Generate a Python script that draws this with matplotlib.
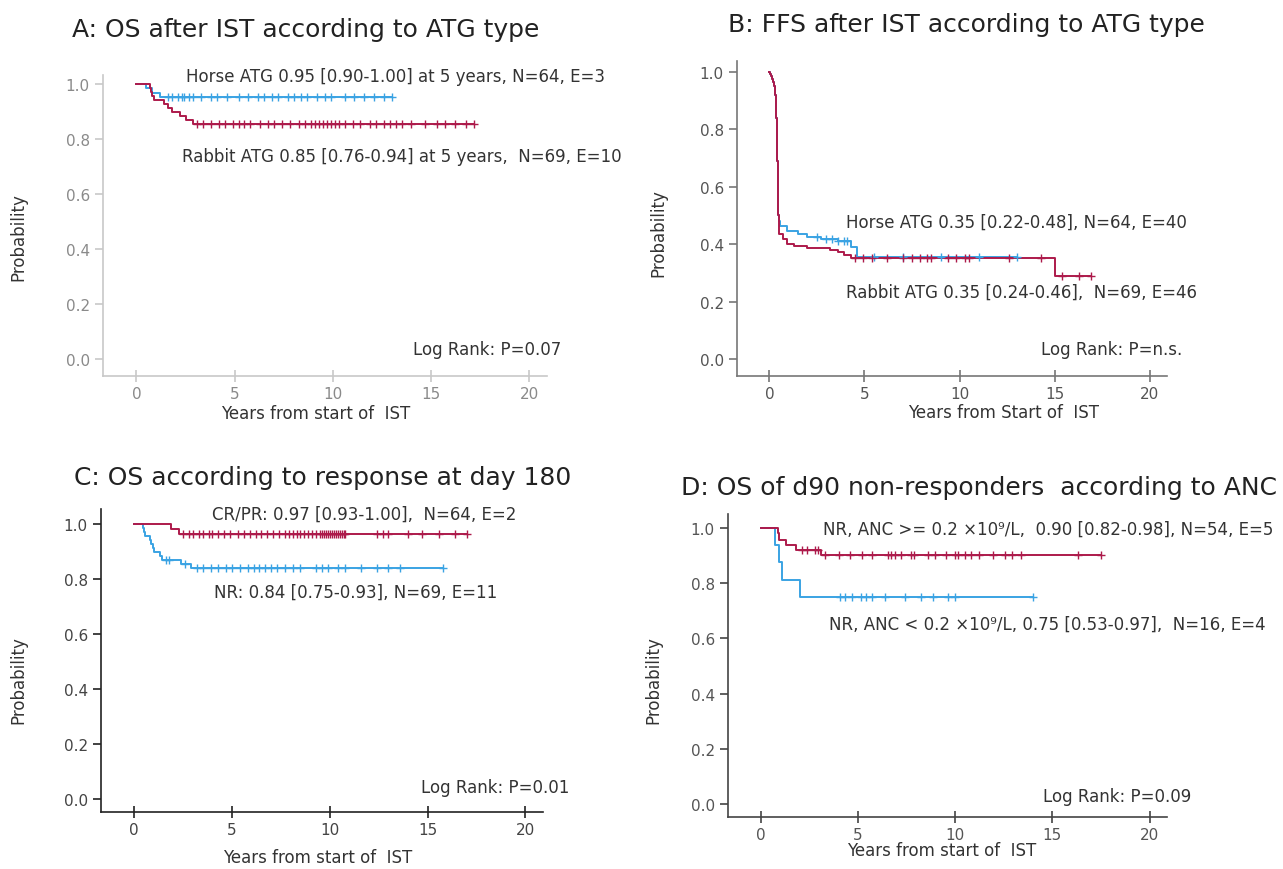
import numpy as np
import matplotlib
matplotlib.use("Agg")
import matplotlib.pyplot as plt

plt.rcParams['font.family'] = ['DejaVu Sans']

# ---- Panel A: OS after IST by ATG type
a_horse_events = [0.5, 0.8, 1.2]
a_horse_surv = [0.984, 0.968, 0.952]
a_horse_end = 13.0
a_horse_cens = [1.6, 1.8, 2.1, 2.3, 2.4, 2.7, 2.9, 3.3, 3.8, 4.1, 4.6, 5.2, 5.7, 6.2, 6.5,
                6.9, 7.2, 7.7, 8.0, 8.4, 8.7, 9.2, 9.6, 9.9, 10.6, 11.1, 11.6, 12.1, 12.6, 13.0]
a_rabbit_events = [0.7, 0.75, 0.8, 0.9, 1.4, 1.6, 1.8, 2.2, 2.5, 2.9]
a_rabbit_surv = [0.986, 0.971, 0.957, 0.942, 0.928, 0.913, 0.899, 0.884, 0.870, 0.855]
a_rabbit_end = 17.2
a_rabbit_cens = [3.1, 3.4, 3.8, 4.2, 4.5, 4.9, 5.2, 5.5, 5.8, 6.3, 6.7, 7.0, 7.4, 7.8, 8.3,
                 8.6, 8.9, 9.1, 9.3, 9.5, 9.7, 9.9, 10.1, 10.3, 10.6, 11.0, 11.4, 11.9, 12.2,
                 12.6, 12.9, 13.2, 13.5, 14.0, 14.7, 15.3, 15.7, 16.2, 16.8, 17.2]

# ---- Panel B: FFS after IST by ATG type
b_drop_t = [0.05, 0.1, 0.15, 0.2, 0.25, 0.28, 0.31, 0.33, 0.35, 0.37, 0.39, 0.40, 0.42,
            0.43, 0.45, 0.46]
b_drop_s = [0.993, 0.985, 0.975, 0.965, 0.952, 0.94, 0.92, 0.90, 0.87, 0.84, 0.80, 0.76,
            0.69, 0.62, 0.55, 0.50]
b_horse_events = [0.5, 0.58, 0.94, 1.5, 2.0, 2.7, 3.6, 4.3, 4.6]
b_horse_surv = [0.48, 0.464, 0.446, 0.435, 0.425, 0.418, 0.41, 0.39, 0.355]
b_horse_end = 13.0
b_horse_cens = [2.5, 3.0, 3.3, 3.6, 3.9, 4.1, 5.5, 7.0, 9.0, 11.0, 13.0]
b_rabbit_events = [0.5, 0.7, 0.95, 1.3, 2.0, 3.2, 3.6, 3.9, 4.3, 15.0]
b_rabbit_surv = [0.436, 0.418, 0.40, 0.395, 0.387, 0.38, 0.372, 0.362, 0.352, 0.288]
b_rabbit_end = 16.9
b_rabbit_cens = [4.5, 4.9, 5.4, 6.2, 7.0, 7.5, 7.9, 8.3, 8.5, 9.4, 9.8, 10.3, 10.5, 12.6,
                 14.3, 15.4, 16.3, 16.9]

# ---- Panel C: OS by response at day 180
c_cr_events = [1.9, 2.3]
c_cr_surv = [0.983, 0.965]
c_cr_end = 17.0
c_cr_cens = [2.5, 2.8, 3.0, 3.3, 3.5, 3.8, 4.0, 4.3, 4.6, 4.9, 5.3, 5.6, 5.9, 6.2, 6.5, 6.8,
             7.1, 7.4, 7.7, 7.9, 8.1, 8.3, 8.5, 8.7, 8.9, 9.1, 9.3, 9.5, 9.6, 9.7, 9.8, 9.9,
             10.0, 10.1, 10.2, 10.3, 10.4, 10.5, 10.6, 10.7, 10.8, 12.4, 12.7, 13.0, 14.0,
             14.7, 15.6, 16.4, 17.0]
c_nr_events = [0.45, 0.5, 0.55, 0.8, 0.85, 0.95, 1.0, 1.3, 1.4, 2.4, 2.9]
c_nr_surv = [0.986, 0.971, 0.957, 0.942, 0.928, 0.913, 0.899, 0.884, 0.870, 0.855, 0.84]
c_nr_end = 15.8
c_nr_cens = [1.6, 1.8, 2.6, 3.2, 3.5, 3.9, 4.3, 4.7, 5.0, 5.4, 5.8, 6.1, 6.4, 6.7, 7.0, 7.3,
             7.7, 8.1, 8.5, 9.3, 9.6, 9.9, 10.4, 10.8, 11.6, 12.4, 13.0, 13.6, 15.8]

# ---- Panel D: OS of d90 non-responders by ANC
d_hi_events = [0.85, 0.9, 1.3, 1.8, 3.1]
d_hi_surv = [0.98, 0.955, 0.937, 0.918, 0.90]
d_hi_end = 17.5
d_hi_cens = [2.1, 2.35, 2.8, 2.95, 3.3, 4.0, 4.6, 5.2, 5.7, 6.55, 6.7, 6.9, 7.2, 7.7, 7.9,
             8.6, 8.95, 9.5, 10.0, 10.15, 10.5, 10.8, 11.2, 11.95, 12.55, 12.9, 13.4, 16.3, 17.5]
d_lo_events = [0.7, 0.9, 1.1, 2.0]
d_lo_surv = [0.9375, 0.875, 0.8125, 0.75]
d_lo_end = 14.0
d_lo_cens = [4.06, 4.32, 4.66, 5.17, 5.43, 5.69, 6.38, 7.4, 8.26, 8.86, 9.63, 9.98, 14.0]

BLUE = '#3aa3e3'
RED = '#ad1a4b'

W, H = 1283, 870
fig = plt.figure(figsize=(W / 100, H / 100), dpi=100)


def axes_px(left, top, right, bottom):
    return fig.add_axes([left / W, 1 - bottom / H, (right - left) / W, (bottom - top) / H])


def km(ax, events, surv, end, cens, color, lead_t=(), lead_s=()):
    t = [0.0] + list(lead_t) + list(events) + [end]
    s = [1.0] + list(lead_s) + list(surv) + [surv[-1]]
    ax.step(t, s, where='post', color=color, lw=1.4, zorder=3)
    idx = np.searchsorted(t, cens, side='right') - 1
    cy = np.array(s)[np.clip(idx, 0, len(s) - 1)]
    ax.plot(cens, cy, ls='none', marker='+', ms=6, mew=1.0, color=color, zorder=4)


def style(ax, ylim, spine_col, lab_col, ylab_xy, xlab_xy, xlabel):
    ax.set_xlim(-1.7, 20.9)
    ax.set_ylim(*ylim)
    for sp in ['top', 'right']:
        ax.spines[sp].set_visible(False)
    for sp in ['left', 'bottom']:
        ax.spines[sp].set_color(spine_col)
        ax.spines[sp].set_linewidth(1.2)
    ax.set_xticks([0, 5, 10, 15, 20])
    ax.set_yticks([0, 0.2, 0.4, 0.6, 0.8, 1.0])
    ax.set_yticklabels(['0.0', '0.2', '0.4', '0.6', '0.8', '1.0'])
    ax.tick_params(axis='both', colors=spine_col, labelcolor=lab_col, labelsize=11,
                   direction='out', length=6, width=1.2)
    ax.tick_params(axis='x', direction='inout', length=8, pad=3)
    ax.set_ylabel('Probability', fontsize=12, color='#333333')
    ax.yaxis.set_label_coords(*ylab_xy)
    ax.set_xlabel(xlabel, fontsize=12, color='#333333')
    ax.xaxis.set_label_coords(*xlab_xy)
    ax.patch.set_alpha(0)


def note(ax, x, y, s):
    ax.text(x, y, s, fontsize=12, color='#333333', va='center', ha='left', clip_on=False)


def title(px, py, s):
    fig.text(px / W, 1 - py / H, s, fontsize=18, color='#222222', va='center', ha='left')


# A
axA = axes_px(103, 76, 547, 377)
km(axA, a_horse_events, a_horse_surv, a_horse_end, a_horse_cens, BLUE)
km(axA, a_rabbit_events, a_rabbit_surv, a_rabbit_end, a_rabbit_cens, RED)
style(axA, (-0.062, 1.033), '#c8c8c8', '#8a8a8a', (-0.171, 0.465), (0.48, -0.093),
      'Years from start of  IST')
note(axA, 2.5, 1.029, 'Horse ATG 0.95 [0.90-1.00] at 5 years, N=64, E=3')
note(axA, 2.3, 0.738, 'Rabbit ATG 0.85 [0.76-0.94] at 5 years,  N=69, E=10')
note(axA, 14.07, 0.036, 'Log Rank: P=0.07')
title(72, 30, 'A: OS after IST according to ATG type')

# B
axB = axes_px(737, 62, 1167, 377)
km(axB, b_horse_events, b_horse_surv, b_horse_end, b_horse_cens, BLUE, b_drop_t, b_drop_s)
km(axB, b_rabbit_events, b_rabbit_surv, b_rabbit_end, b_rabbit_cens, RED, b_drop_t, b_drop_s)
style(axB, (-0.059, 1.038), '#777777', '#555555', (-0.163, 0.457), (0.62, -0.086),
      'Years from Start of  IST')
note(axB, 4.04, 0.477, 'Horse ATG 0.35 [0.22-0.48], N=64, E=40')
note(axB, 4.04, 0.233, 'Rabbit ATG 0.35 [0.24-0.46],  N=69, E=46')
note(axB, 14.3, 0.035, 'Log Rank: P=n.s.')
title(728, 25, 'B: FFS after IST according to ATG type')

# C
axC = axes_px(101, 510, 543, 813)
km(axC, c_nr_events, c_nr_surv, c_nr_end, c_nr_cens, BLUE)
km(axC, c_cr_events, c_cr_surv, c_cr_end, c_cr_cens, RED)
style(axC, (-0.047, 1.055), '#222222', '#444444', (-0.167, 0.44), (0.49, -0.118),
      'Years from start of  IST')
note(axC, 3.97, 1.036, 'CR/PR: 0.97 [0.93-1.00],  N=64, E=2')
note(axC, 4.07, 0.753, 'NR: 0.84 [0.75-0.93], N=69, E=11')
note(axC, 14.66, 0.044, 'Log Rank: P=0.01')
title(74, 478, 'C: OS according to response at day 180')

# D
axD = axes_px(728, 515, 1167, 818)
km(axD, d_lo_events, d_lo_surv, d_lo_end, d_lo_cens, BLUE)
km(axD, d_hi_events, d_hi_surv, d_hi_end, d_hi_cens, RED)
style(axD, (-0.047, 1.05), '#444444', '#555555', (-0.149, 0.455), (0.487, -0.079),
      'Years from start of  IST')
note(axD, 3.19, 0.996, 'NR, ANC >= 0.2 \u00d710\u2079/L,  0.90 [0.82-0.98], N=54, E=5')
note(axD, 3.5, 0.652, 'NR, ANC < 0.2 \u00d710\u2079/L, 0.75 [0.53-0.97],  N=16, E=4')
note(axD, 14.5, 0.03, 'Log Rank: P=0.09')
title(681, 488, 'D: OS of d90 non-responders  according to ANC')

fig.savefig('out.png', dpi=100, facecolor='white')
